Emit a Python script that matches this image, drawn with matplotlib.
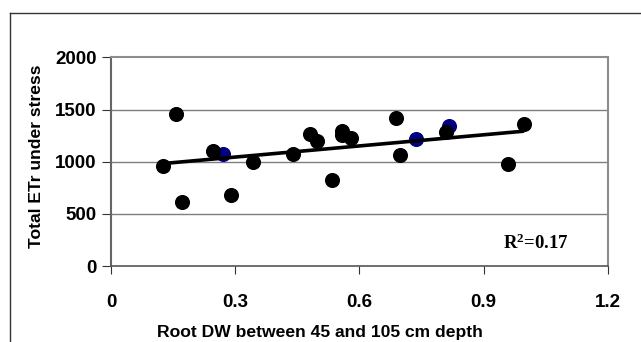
#!/usr/bin/env python3
import matplotlib
matplotlib.use("Agg")
import matplotlib.pyplot as plt
from matplotlib.lines import Line2D
import numpy as np

# black points (root DW, total ETr)
root_dw = [0.125, 0.156, 0.172, 0.247, 0.290, 0.342, 0.439, 0.480, 0.497,
           0.534, 0.558, 0.557, 0.579, 0.689, 0.698, 0.810, 0.960, 0.998]
etr = [960, 1460, 615, 1102, 679, 997, 1071, 1262, 1198,
       822, 1294, 1260, 1227, 1418, 1061, 1284, 982, 1358]

# blue points
root_dw_blue = [0.271, 0.736, 0.816]
etr_blue = [1071, 1221, 1342]

# linear trend: slope, intercept
trend_slope = 356
trend_intercept = 938
r2_text = "R$^{2}$=0.17"

x_ticks = [0, 0.3, 0.6, 0.9, 1.2]
y_ticks = [0, 500, 1000, 1500, 2000]

plt.rcParams["mathtext.fontset"] = "custom"
plt.rcParams["mathtext.rm"] = "Liberation Serif:bold"
plt.rcParams["mathtext.it"] = "Liberation Serif:bold"
plt.rcParams["mathtext.bf"] = "Liberation Serif:bold"

fig = plt.figure(figsize=(6.41, 3.42), dpi=100)
ax = fig.add_axes([0.1732, 0.2222, 0.948 - 0.1732, 0.8319 - 0.2222])

# outer frame (left and top edges only are visible)
fig.add_artist(Line2D([10 / 641, 10 / 641], [0, 1 - 13 / 342], transform=fig.transFigure,
                      color="#333333", lw=1.0))
fig.add_artist(Line2D([10 / 641, 1], [1 - 13 / 342, 1 - 13 / 342], transform=fig.transFigure,
                      color="#333333", lw=1.0))

ax.set_xlim(0, 1.2)
ax.set_ylim(0, 2000)

for yv in y_ticks[1:-1]:
    ax.axhline(yv, color="#7f7f7f", lw=1.0, zorder=1)

ax.scatter(root_dw_blue, etr_blue, s=118, color="#000080", zorder=3, linewidths=0)
ax.scatter(root_dw, etr, s=118, color="black", zorder=4, linewidths=0)

xs = np.array([min(root_dw), max(root_dw)])
ax.plot(xs, trend_slope * xs + trend_intercept, color="black", lw=2.6, zorder=5,
        solid_capstyle="butt")

ax.text(0.79, 0.11, r2_text, transform=ax.transAxes, fontsize=13.5,
        family="Liberation Serif", weight="bold", ha="left", va="center")

for side in ["top", "right"]:
    ax.spines[side].set_color("#8c8c8c")
    ax.spines[side].set_linewidth(1.5)
ax.spines["left"].set_color("#666666")
ax.spines["left"].set_linewidth(1.5)
ax.spines["bottom"].set_color("#555555")
ax.spines["bottom"].set_linewidth(1.2)

ax.set_xticks(x_ticks)
ax.set_xticklabels(["0", "0.3", "0.6", "0.9", "1.2"])
ax.set_yticks(y_ticks)
ax.set_yticklabels([str(v) for v in y_ticks])
ax.tick_params(axis="both", direction="out", width=0.8, color="#333333",
               labelsize=13.5)
ax.tick_params(axis="x", length=5.8, pad=14)
ax.tick_params(axis="y", length=6.5, pad=4)
for lab in ax.get_xticklabels() + ax.get_yticklabels():
    lab.set_family("Liberation Sans")
    lab.set_weight("bold")

fig.text(320 / 641, 1 - 332 / 342, "Root DW between 45 and 105 cm depth",
         family="Liberation Sans", weight="bold", fontsize=12.6, ha="center", va="center")
fig.text(37 / 641, 1 - 156 / 342, "Total ETr under stress", rotation=90,
         family="Liberation Sans", weight="bold", fontsize=12.6, ha="center", va="center")

fig.savefig("out.png", dpi=100)
